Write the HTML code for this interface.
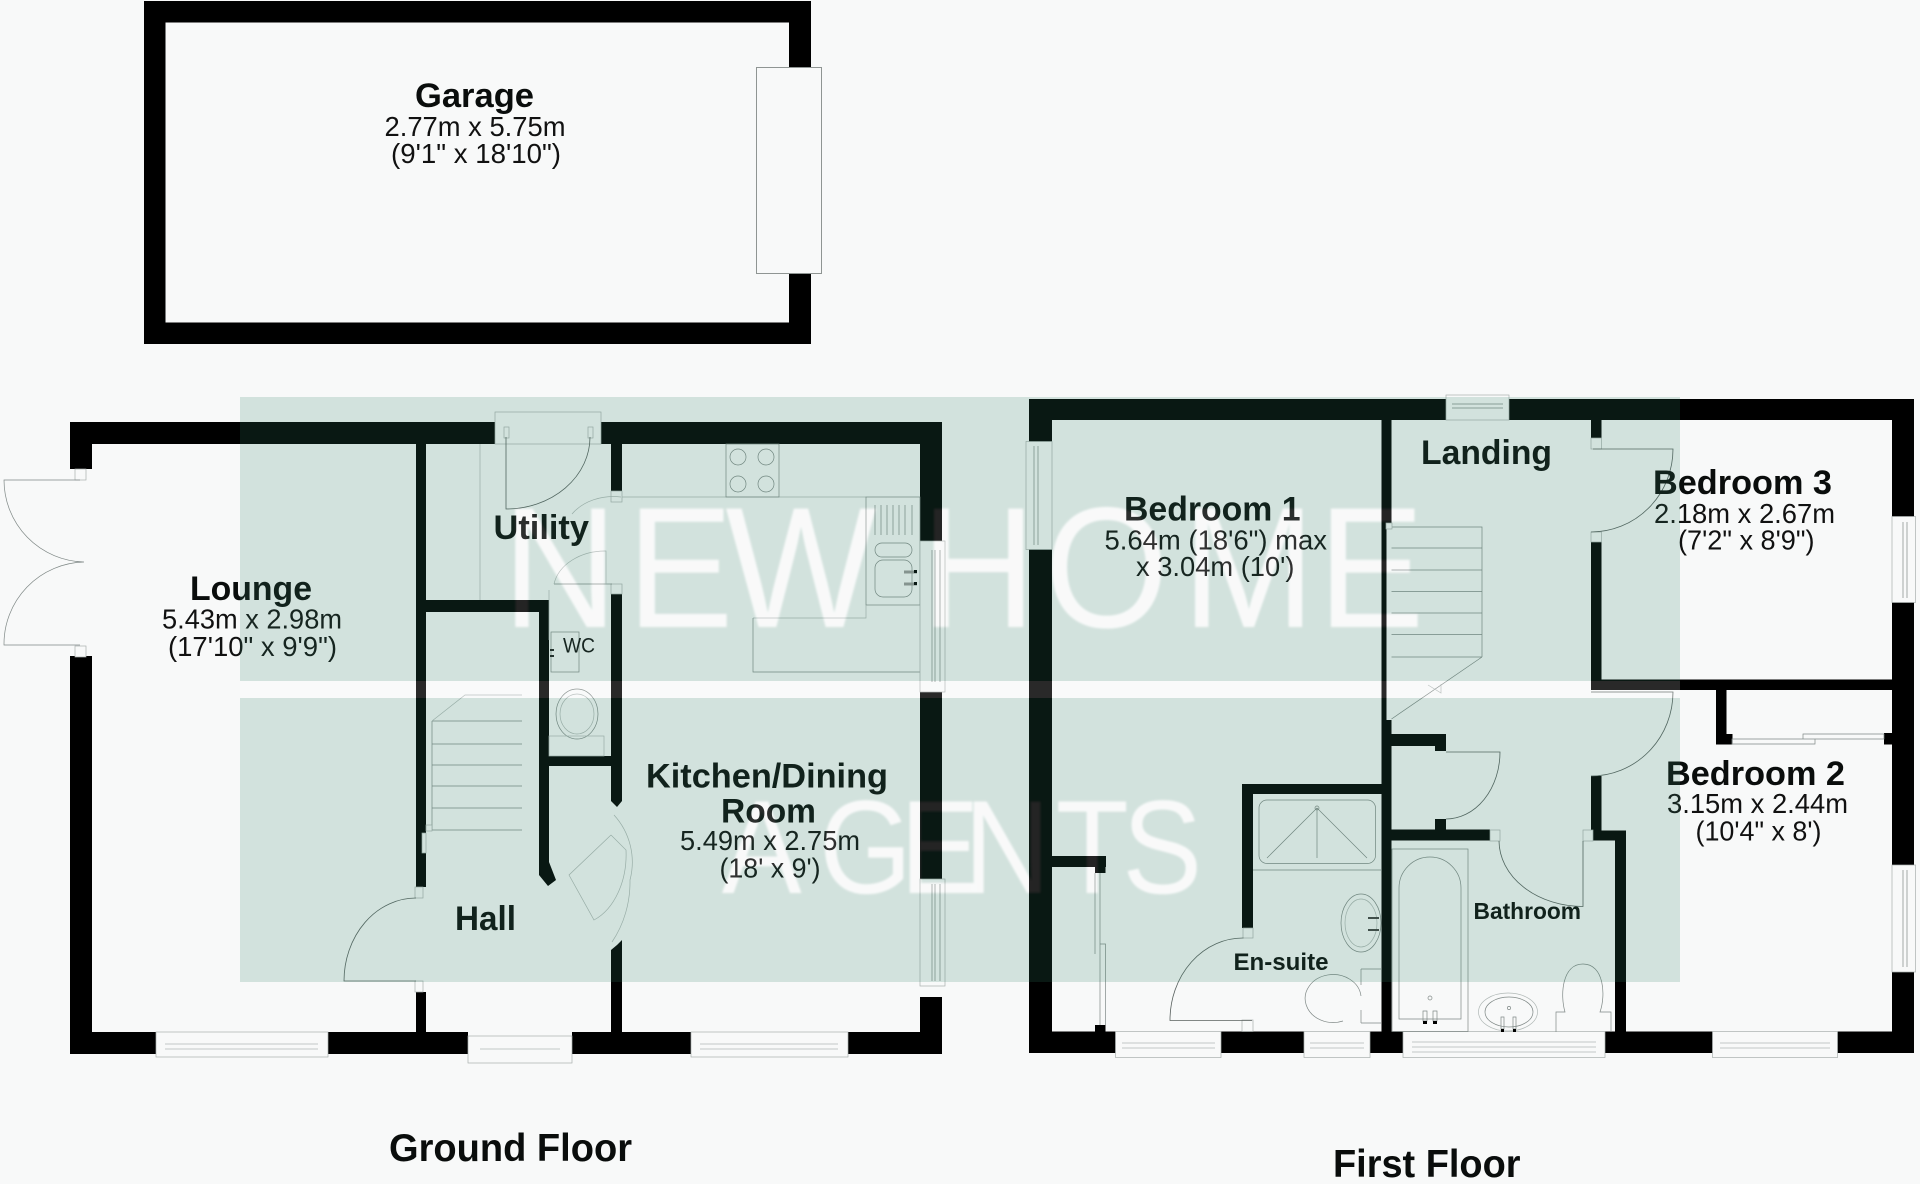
<!DOCTYPE html>
<html><head><meta charset="utf-8"><title>Floor plan</title>
<style>
html,body{margin:0;padding:0;background:#f8f9f9}
svg{display:block;font-family:"Liberation Sans",Arial,sans-serif}
.l{fill:none;stroke:#59615f;stroke-width:.8}
.g{fill:none;stroke:#7f8886;stroke-width:.7}
.h{fill:none;stroke:#b0b8b6;stroke-width:.7}
.f{fill:#f8f9f9;stroke:#a9b0ae;stroke-width:.7}
.b{font-weight:bold;font-size:34px;fill:#0a0d0c}
.r{font-size:28px;fill:#111}
.wm1{font-size:172px}
.wm2{font-size:133px}
</style></head><body>
<svg width="1920" height="1184" viewBox="0 0 1920 1184" xmlns="http://www.w3.org/2000/svg">
<defs>
<filter id="s" x="-5%" y="-5%" width="110%" height="110%"><feGaussianBlur stdDeviation="1"/></filter>
<mask id="wm" maskUnits="userSpaceOnUse" x="0" y="0" width="1920" height="1184">
<rect width="1920" height="1184" fill="#fff"/>
<g filter="url(#s)" fill="#000">
<text class="wm1" transform="scale(.93,1)" y="627" x="540 674 780 0 990 1123 1271 1417">NEW HOME</text>
<text class="wm2" transform="scale(.9,1)" y="893" x="802 910 1000 1071 1173 1247">AGENTS</text>
</g>
</mask>
</defs>
<rect width="1920" height="1184" fill="#f8f9f9"/>

<!-- Garage -->
<rect x="144" y="1" width="667" height="343" fill="#000"/>
<rect x="165.5" y="22.5" width="623.5" height="300" fill="#f8f9f9"/>
<rect x="756.5" y="67.5" width="65" height="206" fill="#f8f9f9" stroke="#8f9593"/>

<!-- Ground floor walls -->
<g fill="#000">
<rect x="70" y="422" width="425" height="22"/><rect x="601" y="422" width="341" height="22"/>
<rect x="70" y="422" width="22" height="47"/><rect x="70" y="656" width="22" height="398"/>
<rect x="920" y="422" width="22" height="119"/><rect x="920" y="692" width="22" height="187"/><rect x="920" y="997" width="22" height="57"/>
<rect x="70" y="1032" width="86" height="22"/><rect x="328" y="1032" width="140" height="22"/><rect x="572" y="1032" width="119" height="22"/><rect x="848" y="1032" width="94" height="22"/>
<rect x="416" y="444" width="10" height="443"/><rect x="416" y="992" width="10" height="40"/>
<rect x="426" y="600" width="120" height="12"/>
<polygon points="539,600 549,600 549,862 556,880 548,886 539,875"/>
<rect x="611" y="444" width="11" height="47"/>
<polygon points="611,594 622,594 622,801 617,807 611,801"/>
<polygon points="617,945 622,940 622,1032 611,1032 611,950"/>
<rect x="549" y="756" width="62" height="10"/>
</g>

<!-- Ground floor fixtures -->
<g>
<rect class="f" x="495" y="412" width="106" height="32"/>
<rect class="f" x="504" y="427" width="5" height="11"/><rect class="f" x="588" y="427" width="5" height="11"/>
<path class="l" d="M506 437V509A84 72 0 0 0 590 437"/>
<line class="h" x1="480" y1="444" x2="480" y2="600"/>
<rect class="f" x="611" y="491" width="11" height="11"/><rect class="f" x="611" y="584" width="11" height="10"/>
<path class="h" d="M622 497H866"/>
<rect class="g" x="726" y="444" width="53" height="53"/>
<circle class="g" cx="738" cy="457" r="8"/><circle class="g" cx="766" cy="457" r="8"/><circle class="g" cx="738" cy="484" r="8"/><circle class="g" cx="766" cy="484" r="8"/>
<rect class="g" x="866" y="497" width="54" height="108"/>
<path class="g" d="M875 505V535M881 505V535M887 505V535M893 505V535M899 505V535M905 505V535M912 505V535"/>
<rect class="g" x="875" y="543" width="37" height="14" rx="7"/>
<rect class="g" x="875" y="560" width="37" height="37" rx="8"/>
<path d="M904 572h13M904 584h13" stroke="#999" stroke-width="3"/>
<rect x="914" y="570" width="3" height="3"/><rect x="914" y="582" width="3" height="3"/>
<path class="h" d="M753 618H866V605"/>
<path class="g" d="M753 618V672H920"/>
<rect class="f" x="920" y="541" width="25" height="151"/><path class="g" d="M932 550V682M935 550V682M940 550V682"/>
<rect class="f" x="920" y="879" width="25" height="107"/><path class="g" d="M932 884V981M935 884V981M940 884V981"/>
<rect class="f" x="156" y="1032" width="172" height="25"/><path class="h" d="M165 1044H318M165 1049H318"/>
<rect class="f" x="468" y="1036" width="104" height="27"/><path class="h" d="M480 1049H560"/>
<rect class="f" x="691" y="1032" width="157" height="25"/><path class="h" d="M700 1044H838M700 1049H838"/>
<!-- french doors -->
<rect class="f" x="75" y="469" width="11" height="11"/><rect class="f" x="75" y="646" width="11" height="11"/>
<path class="g" d="M80 480H4A82 82 0 0 0 84 562A82 82 0 0 0 4 645H80"/>
<!-- stairs -->
<path class="g" d="M432 721V830M432 721H522M432 744H522M432 765H522M432 786H522M432 808H522M432 830H522"/>
<path class="h" d="M432 721L465 695L522 695"/>
<rect class="f" x="422" y="833" width="4" height="20"/>
<rect class="f" x="426" y="825" width="6" height="6"/>
<!-- WC -->
<ellipse class="g" cx="577" cy="714" rx="21" ry="25"/><ellipse class="h" cx="577" cy="714" rx="17" ry="20"/>
<rect class="h" x="549" y="736" width="55" height="20"/>
<rect class="g" x="551" y="632" width="28" height="40"/>
<path d="M550 650h4M550 656h4" stroke="#222" stroke-width="2"/>
<path class="h" d="M621 497A50 40 0 0 0 572 514"/>
<path class="g" d="M554 584H612"/>
<path class="h" d="M554 584A52 40 0 0 1 606 551V584"/>
<path class="h" d="M549 590V640"/>
<!-- hall doors -->
<rect class="f" x="415" y="887" width="8" height="11"/><rect class="f" x="415" y="981" width="8" height="11"/>
<path class="l" d="M416 898A72 83 0 0 0 344 981H416"/>
<path class="h" d="M611 835L569 875L594 920A50 70 0 0 0 626 850L611 835"/>
<path class="h" d="M612 942A90 100 0 0 0 630 880A70 70 0 0 0 614 815"/>
</g>

<!-- First floor walls -->
<g fill="#000">
<rect x="1029" y="399" width="417" height="21"/><rect x="1509" y="399" width="405" height="21"/>
<rect x="1029" y="399" width="23" height="654"/>
<rect x="1892" y="399" width="22" height="654"/>
<rect x="1029" y="1031.5" width="885" height="21.5"/>
<rect x="1381.5" y="420" width="10" height="103"/><rect x="1381.5" y="523" width="5" height="197"/><rect x="1381.5" y="720" width="10" height="312"/>
<rect x="1391" y="734" width="55" height="12"/><rect x="1435" y="746" width="11" height="5"/>
<rect x="1391" y="829.5" width="99" height="11"/><rect x="1435" y="819" width="11" height="11"/>
<rect x="1591" y="420" width="10.5" height="18"/><rect x="1591" y="542" width="10.5" height="148"/>
<rect x="1591" y="679.5" width="301" height="10.5"/>
<rect x="1591" y="776" width="10.5" height="55"/><rect x="1591" y="830.5" width="35" height="10"/>
<rect x="1615" y="830.5" width="11" height="201"/>
<rect x="1716" y="690" width="10.5" height="44"/><rect x="1716" y="734" width="16.5" height="10.5"/>
<rect x="1884" y="733" width="8" height="11.5"/>
<rect x="1242" y="784" width="140" height="10"/><rect x="1242" y="784" width="11" height="144"/>
<rect x="1052" y="856" width="54" height="11"/><rect x="1095" y="856" width="10.5" height="17"/>
<rect x="1095" y="1025" width="10.5" height="7"/>
</g>

<!-- First floor fixtures -->
<g>
<rect class="f" x="1026" y="441.5" width="26" height="108"/><path class="g" d="M1034 446V545M1038 446V545"/>
<rect class="f" x="1892" y="516.5" width="23.5" height="86"/><path class="g" d="M1903 522V598M1907 522V598"/>
<rect class="f" x="1892" y="865" width="23.5" height="107"/><path class="g" d="M1903 870V967M1907 870V967"/>
<rect class="f" x="1446" y="395" width="63" height="25"/><path class="g" d="M1452 404H1503M1452 408H1503"/>
<rect class="f" x="1115.5" y="1031.5" width="105.5" height="26"/><path class="h" d="M1122 1043H1215M1122 1048H1215"/>
<rect class="f" x="1304" y="1031.5" width="66" height="26"/><path class="h" d="M1310 1043H1364M1310 1048H1364"/>
<rect class="f" x="1403" y="1031.5" width="202" height="26"/><path class="h" d="M1412 1042H1596M1412 1047H1596M1412 1052H1596"/>
<rect class="f" x="1712.5" y="1031.5" width="125" height="26"/><path class="h" d="M1720 1043H1830M1720 1048H1830"/>
<!-- doors -->
<rect class="f" x="1591" y="438" width="10.5" height="11"/><rect class="f" x="1591" y="532" width="10.5" height="10"/>
<path class="l" d="M1593 449H1673A82 83 0 0 1 1591 532"/>
<path class="l" d="M1591 692H1673A82 84 0 0 1 1591 776"/>
<path class="l" d="M1446 752H1500A54 67 0 0 1 1446 819"/>
<rect class="f" x="1490" y="830" width="10" height="11"/><rect class="f" x="1583" y="830" width="10" height="11"/>
<path class="l" d="M1583 841V906.5A84 66 0 0 1 1499 841"/>
<rect class="f" x="1243" y="928" width="10" height="10"/><rect class="f" x="1242" y="1020" width="11" height="11.5"/>
<path class="l" d="M1243.5 938A73 82 0 0 0 1170 1020.5H1252"/>
<!-- wardrobe bed 1 -->
<path class="g" d="M1095 873V954M1100 873V954M1100 944H1105.5V1025M1100 944V1025"/>
<!-- bed 2 sliding -->
<path class="g" d="M1732 739H1815V744H1732ZM1803 734H1884V739H1803Z"/>
<!-- stairs -->
<path class="g" d="M1391.5 527H1482V657M1391.5 548H1482M1391.5 570H1482M1391.5 591.5H1482M1391.5 613H1482M1391.5 634.5H1482M1391.5 657H1482M1482 657L1391.5 719"/>
<path class="h" d="M1428 685L1441 693L1441 684"/>
<rect class="f" x="1386" y="523" width="6" height="6"/>
<!-- shower -->
<rect class="g" x="1259" y="800" width="116.5" height="63.5" rx="8"/>
<path class="g" d="M1253 870H1381M1317 808L1267 858M1317 808L1367 858M1317 808V858"/>
<circle class="g" cx="1317" cy="808" r="2"/>
<!-- ensuite basin + wc -->
<ellipse class="g" cx="1361" cy="923" rx="20" ry="29"/><ellipse class="h" cx="1361" cy="923" rx="16" ry="24"/>
<path d="M1368 918h11M1368 930h11" stroke="#444" stroke-width="2"/>
<path class="g" d="M1361 996A28 24 0 1 0 1343 1021"/>
<path class="g" d="M1361 969H1381M1361 969V985M1361 1023H1381M1361 1010V1023"/>
<!-- bath -->
<rect class="g" x="1392" y="849" width="76" height="182.5"/>
<path class="g" d="M1399 1019V888A31 31 0 0 1 1461 888V1019Z"/>
<circle class="g" cx="1430" cy="998" r="2"/>
<path class="g" d="M1423 1011h4v10h-4zM1433 1011h4v10h-4z"/>
<rect x="1423" y="1021" width="4" height="3"/><rect x="1433" y="1021" width="4" height="3"/>
<ellipse class="h" cx="1508" cy="1012" rx="29.5" ry="19"/><ellipse class="g" cx="1509" cy="1012" rx="24" ry="15"/>
<circle class="g" cx="1509" cy="1008" r="1.6"/>
<path class="g" d="M1501 1017h3v12h-3zM1513 1017h3v12h-3z"/>
<rect x="1501" y="1029" width="3" height="3"/><rect x="1513" y="1029" width="3" height="3"/>
<path class="g" d="M1556 1032V1012H1565C1560 995 1562 964 1583 964C1604 964 1606 995 1600 1012H1611V1032"/>
</g>

<!-- Labels -->
<g>
<text class="b" x="415" y="107" textLength="119" lengthAdjust="spacingAndGlyphs">Garage</text>
<text class="r" x="384.5" y="136" textLength="181" lengthAdjust="spacingAndGlyphs">2.77m x 5.75m</text>
<text class="r" x="391" y="163" textLength="170" lengthAdjust="spacingAndGlyphs">(9'1" x 18'10")</text>

<text class="b" x="190" y="600" textLength="122" lengthAdjust="spacingAndGlyphs">Lounge</text>
<text class="r" x="162" y="628.5" textLength="180" lengthAdjust="spacingAndGlyphs">5.43m x 2.98m</text>
<text class="r" x="168" y="656" textLength="169" lengthAdjust="spacingAndGlyphs">(17'10" x 9'9")</text>

<text class="b" x="493.5" y="539" textLength="95.5" lengthAdjust="spacingAndGlyphs">Utility</text>
<text class="r" x="563" y="652.5" textLength="32" lengthAdjust="spacingAndGlyphs" style="font-size:21px">WC</text>

<text class="b" x="646" y="787.5" textLength="242" lengthAdjust="spacingAndGlyphs">Kitchen/Dining</text>
<text class="b" x="721" y="822.5" textLength="95" lengthAdjust="spacingAndGlyphs">Room</text>
<text class="r" x="680" y="850" textLength="180" lengthAdjust="spacingAndGlyphs">5.49m x 2.75m</text>
<text class="r" x="719.5" y="877.5" textLength="101" lengthAdjust="spacingAndGlyphs">(18' x 9')</text>

<text class="b" x="455" y="930" textLength="61" lengthAdjust="spacingAndGlyphs">Hall</text>
<text class="b" x="389" y="1161" textLength="243" lengthAdjust="spacingAndGlyphs" style="font-size:39px">Ground Floor</text>

<text class="b" x="1421" y="464" textLength="131" lengthAdjust="spacingAndGlyphs">Landing</text>
<text class="b" x="1124" y="520.5" textLength="176.5" lengthAdjust="spacingAndGlyphs">Bedroom 1</text>
<text class="r" x="1104.5" y="549.5" textLength="222.5" lengthAdjust="spacingAndGlyphs">5.64m (18'6") max</text>
<text class="r" x="1136" y="576" textLength="158.5" lengthAdjust="spacingAndGlyphs">x 3.04m (10')</text>

<text class="b" x="1653" y="494" textLength="179" lengthAdjust="spacingAndGlyphs">Bedroom 3</text>
<text class="r" x="1654" y="523" textLength="181" lengthAdjust="spacingAndGlyphs">2.18m x 2.67m</text>
<text class="r" x="1678" y="549.5" textLength="136.5" lengthAdjust="spacingAndGlyphs">(7'2" x 8'9")</text>

<text class="b" x="1666" y="785" textLength="179" lengthAdjust="spacingAndGlyphs">Bedroom 2</text>
<text class="r" x="1667" y="813" textLength="181" lengthAdjust="spacingAndGlyphs">3.15m x 2.44m</text>
<text class="r" x="1695.5" y="840.5" textLength="126" lengthAdjust="spacingAndGlyphs">(10'4" x 8')</text>

<text class="b" x="1473.5" y="919" textLength="107.5" lengthAdjust="spacingAndGlyphs" style="font-size:23px">Bathroom</text>
<text class="b" x="1233.5" y="970" textLength="95" lengthAdjust="spacingAndGlyphs" style="font-size:24px">En-suite</text>
<text class="b" x="1333" y="1177" textLength="187.5" lengthAdjust="spacingAndGlyphs" style="font-size:39px">First Floor</text>
</g>

<!-- Watermark: tint is knocked out by the letters -->
<g mask="url(#wm)" fill="rgb(50,125,100)" fill-opacity=".19">
<rect x="240" y="397" width="1440" height="284"/>
<rect x="240" y="698" width="1440" height="284"/>
</g>
<rect x="240" y="681" width="1440" height="17" fill="#fff" fill-opacity=".16"/>
<g fill="#fff" fill-opacity=".14" filter="url(#s)">
<text class="wm1" transform="scale(.93,1)" y="627" x="540 674 780 0 990 1123 1271 1417">NEW HOME</text>
<text class="wm2" transform="scale(.9,1)" y="893" x="802 910 1000 1071 1173 1247">AGENTS</text>
</g>
</svg>
</body></html>
